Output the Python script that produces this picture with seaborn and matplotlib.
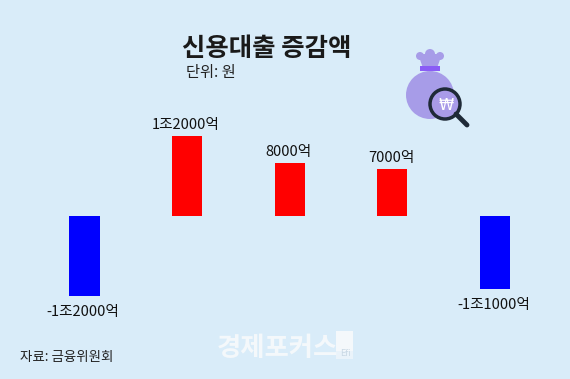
import matplotlib
matplotlib.use("Agg")
import matplotlib.pyplot as plt
from matplotlib.patches import Circle, Ellipse, Polygon, Rectangle
import pandas as pd
import seaborn as sns

periods = ['a', 'b', 'c', 'd', 'e']
change = [-12000, 12000, 8000, 7000, -11000]
labels = ['-1조2000억', '1조2000억', '8000억', '7000억', '-1조1000억']
bar_colors = ['#0000ff', '#ff0000', '#ff0000', '#ff0000', '#0000ff']
label_gap = [-6.5, 3, 3, 3, -6.5]

BG = '#d9ecf9'

sns.set_theme(style="white")
plt.rcParams['font.family'] = ['Noto Sans CJK KR', 'DejaVu Sans']

df = pd.DataFrame({'period': periods, 'change': change})

fig = plt.figure(figsize=(5.70, 3.79), dpi=100, facecolor=BG)
ax = fig.add_axes([0, 0, 1, 1], facecolor=BG)
# bars: zero line at y=216px, 80px = 12000
sns.barplot(data=df, x='period', y='change', hue='period', palette=bar_colors,
            legend=False, width=0.295, saturation=1, linewidth=0, ax=ax)
ax.set_xlim(-0.8236, 4.732)
ax.set_ylim(-163 * 150, 216 * 150)
ax.axis('off')

for i, v in enumerate(change):
    ax.annotate(labels[i], (i, v), xytext=(-1, label_gap[i]), textcoords='offset points',
                ha='center', va='bottom' if v > 0 else 'top', fontsize=10.5, color='#111111')

# full-figure overlay in pixel coords for texts and the icon
ov = fig.add_axes([0, 0, 1, 1], facecolor='none')
ov.set_xlim(0, 570)
ov.set_ylim(379, 0)
ov.axis('off')
ov.text(267, 48, '신용대출 증감액', ha='center', va='center', fontsize=18.3, fontweight='bold', color='#1a1a1a')
ov.text(210.5, 72, '단위: 원', ha='center', va='center', fontsize=11, color='#222222')
ov.text(20, 357, '자료: 금융위원회', ha='left', va='center', fontsize=9.7, color='#222222')
ov.text(277, 348, '경제포커스', ha='center', va='center', fontsize=19, fontweight='bold', color='#f4f8fb')

# logo block next to the watermark
ov.add_patch(Rectangle((336, 331), 17, 20, color='#f4f8fb', lw=0))
ov.add_patch(Rectangle((336, 351), 17, 8, color='#eaf3fa', lw=0))
ov.text(345, 353, 'Efi', ha='center', va='center', fontsize=6, color='#c9d8e4', family='DejaVu Sans')

# money bag with magnifier
purple = '#a79ce8'
ov.add_patch(Ellipse((430, 95), 48, 48, color=purple, lw=0))
ov.add_patch(Polygon([[418, 54], [442, 54], [437, 68], [423, 68]], color=purple, lw=0))
for cx, cy, r in [(420, 56, 4), (430, 54, 5), (440, 56, 4)]:
    ov.add_patch(Circle((cx, cy), r, color=purple, lw=0))
ov.add_patch(Rectangle((420, 66), 20, 5, color='#8a5cf6', lw=0))
ov.plot([456, 467], [114, 125], color='#1f2a38', lw=3.5, solid_capstyle='round')
ov.add_patch(Circle((445, 104), 15, fc='#a99be8', ec='#1f2a38', lw=2.5))
ov.text(446, 105, '₩', ha='center', va='center', fontsize=11, color='white', family='DejaVu Sans')

fig.savefig('out.png', dpi=100, facecolor=BG)
